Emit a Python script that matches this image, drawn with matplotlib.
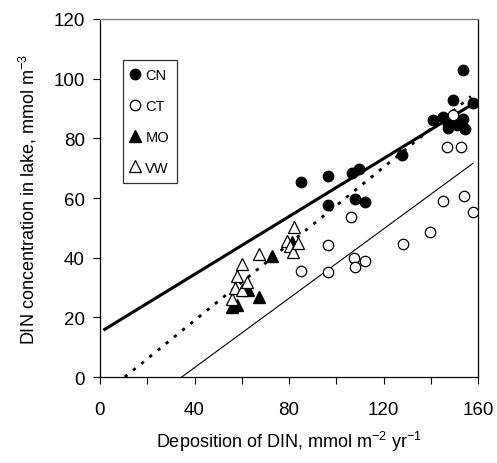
import numpy as np
import matplotlib
matplotlib.use('Agg')
import matplotlib.pyplot as plt

plt.rcParams['font.family'] = ['Liberation Sans', 'DejaVu Sans']

# datos
cn_x = [85, 96.6, 96.6, 106.5, 109.8, 108, 112.2, 128, 140.8, 145, 147.4, 149.6, 151, 153.5, 153.8, 154.5, 158, 147.5]
cn_y = [65.5, 67.3, 57.8, 68.4, 69.7, 59.7, 58.5, 74.5, 86.2, 87, 84.8, 92.9, 84.5, 103, 86.5, 83.1, 91.9, 83.4]

ct_x = [85, 96.6, 96.6, 106.2, 107.5, 108.1, 112.3, 128.1, 139.7, 145, 146.7, 149.6, 153, 154.2, 158]
ct_y = [35.6, 44.3, 35.1, 53.8, 39.8, 37, 38.9, 44.6, 48.5, 59.1, 77, 87.8, 77, 60.7, 55.2]

mo_x = [55.7, 57.8, 62.8, 67.4, 72.6, 81.1]
mo_y = [23.4, 24, 29, 26.7, 40.7, 45.1]

vw_x = [55.7, 57.1, 57.8, 60, 60, 62.3, 67.4, 79, 80.5, 81.8, 82.1, 84]
vw_y = [26.1, 30, 34, 29, 37.9, 31.7, 41.2, 45.7, 44, 41.8, 50.2, 44.9]

# rectas de regresion: (pendiente, ordenada, x inicial, x final)
fit_cn = (0.485, 15.0, 2, 158)
fit_all = (0.642, -6.74, 10.5, 157)
fit_ct = (0.581, -20.1, 34.6, 158)

fig = plt.figure(figsize=(4.97, 4.64), dpi=100)
ax = fig.add_axes([0.2012, 0.1853, 0.7606, 0.7716])

ms = 7.5
ax.plot(cn_x, cn_y, 'o', color='black', ms=ms, ls='none', label='CN', zorder=3)
ax.plot(ct_x, ct_y, 'o', mfc='white', mec='black', mew=0.9, ms=ms, ls='none', label='CT', zorder=3)
ax.plot(mo_x, mo_y, '^', color='black', ms=ms + 1, ls='none', label='MO', zorder=3)
ax.plot(vw_x, vw_y, '^', mfc='white', mec='black', mew=0.9, ms=ms + 1, ls='none', label='VW', zorder=3)

def linea(fit, **kw):
    m, b, x0, x1 = fit
    xs = np.array([x0, x1])
    ax.plot(xs, m * xs + b, color='black', zorder=2, **kw)

linea(fit_cn, lw=2.2)
linea(fit_all, lw=2.0, ls=(0, (1.2, 2.6)))
linea(fit_ct, lw=0.8)

ax.set_xlim(0, 160)
ax.set_ylim(0, 120)
ax.set_xticks(np.arange(0, 161, 40))
ax.set_xticks(np.arange(0, 161, 20), minor=True)
ax.set_yticks(np.arange(0, 121, 20))
ax.tick_params(axis='both', which='both', direction='out', length=5, width=0.8, labelsize=13.5)
ax.tick_params(axis='x', pad=12)
ax.tick_params(axis='y', pad=6)
for s in ax.spines.values():
    s.set_linewidth(0.9)
ax.spines['top'].set_color('#777777')

ax.set_xlabel('Deposition of DIN, mmol m$^{\\mathregular{-2}}$ yr$^{\\mathregular{-1}}$', fontsize=13, labelpad=8)
ax.set_ylabel('DIN concentration in lake, mmol m$^{\\mathregular{-3}}$', fontsize=13, labelpad=10)

leg = ax.legend(loc='upper left', bbox_to_anchor=(0.06, 0.885), fontsize=10.5, frameon=True,
                fancybox=False, edgecolor='black', handlelength=0.6, handletextpad=0.4,
                labelspacing=1.15, borderpad=0.55, borderaxespad=0)
leg.get_frame().set_linewidth(0.9)

plt.savefig('out.png', dpi=100)
